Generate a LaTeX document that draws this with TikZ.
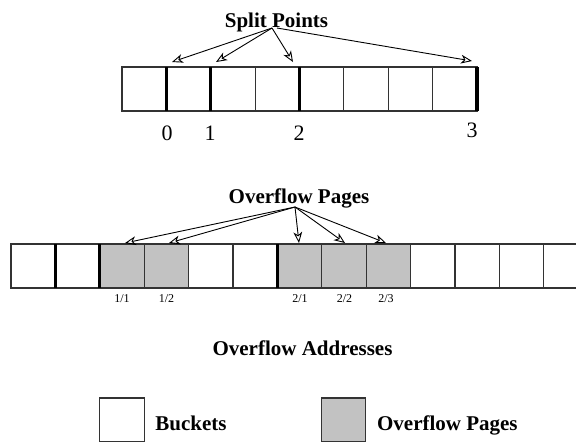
\documentclass[tikz,border=0pt]{standalone}
\usepackage{fontspec}
\setmainfont{Liberation Serif}
\usetikzlibrary{arrows.meta}
\begin{document}
\begin{tikzpicture}[x=0.5pt,y=-0.5pt,
  bucket/.style={draw=black!80, line width=0.6pt, minimum width=22.19pt, minimum height=22pt, inner sep=0pt, outer sep=0pt},
  ovf/.style={bucket, fill=black!24},
  splitline/.style={line width=1.6pt, black},
  ptr/.style={line width=0.45pt, -{Stealth[open,length=5.5pt,width=4.4pt,inset=1.6pt]}},
  title/.style={font=\fontsize{10.5}{12}\selectfont\bfseries, inner sep=0pt, anchor=base},
  legtext/.style={title, anchor=base west},
  digit/.style={font=\fontsize{11}{13}\selectfont, inner sep=0pt, anchor=base},
  addr/.style={font=\fontsize{6}{7}\selectfont, inner sep=0pt, anchor=base},
]
\clip (0,0) rectangle (576,441);
% ---------- top row ----------
\foreach \i in {0,...,7} \node[bucket] (t\i) at ({122+44.375*(\i+0.5)},89) {};
\draw[splitline] (t1.north west) -- (t1.south west);
\draw[splitline] (t2.north west) -- (t2.south west);
\draw[splitline] (t4.north west) -- (t4.south west);
\draw[splitline] (t7.north east) -- (t7.south east);
\node[digit] (d0) at (167,140) {0};
\node[digit] (d1) at (210,140) {1};
\node[digit] (d2) at (299,140) {2};
\node[digit] (d3) at (472,137) {3};
\node[title] (sp) at (276.5,27) {Split Points};
\coordinate (spo) at (272,28);
\coordinate (spo3) at (277,28);
\coordinate (spt0) at (172,62);
\coordinate (spt1) at (216,62);
\coordinate (spt2) at (293,62);
\coordinate (spt3) at (472,61);
\draw[ptr] (spo) -- (spt0);
\draw[ptr] (spo) -- (spt1);
\draw[ptr] (spo) -- (spt2);
\draw[ptr] (spo3) -- (spt3);
% ---------- bottom row ----------
\foreach \i in {0,1,4,5,9,10,11,12} \node[bucket] (b\i) at ({11+44.4*(\i+0.5)},266) {};
\foreach \i in {2,3,6,7,8} \node[ovf] (b\i) at ({11+44.4*(\i+0.5)},266) {};
\draw[splitline] (b1.north west) -- (b1.south west);
\draw[splitline] (b2.north west) -- (b2.south west);
\draw[splitline] (b6.north west) -- (b6.south west);
\node[addr] (a11) at (122,302) {1/1};
\node[addr] (a12) at (166.5,302) {1/2};
\node[addr] (a21) at (300,302) {2/1};
\node[addr] (a22) at (344.5,302) {2/2};
\node[addr] (a23) at (386,302) {2/3};
\node[title] (op) at (299,203) {Overflow Pages};
\coordinate (opo) at (295,207);
\coordinate (opt0) at (125,243);
\coordinate (opt1) at (169,243);
\coordinate (opt2) at (299,243);
\coordinate (opt3) at (345,243);
\coordinate (opt4) at (386,243);
\foreach \k in {0,...,4} \draw[ptr] (opo) -- (opt\k);
\node[title] (oa) at (302.5,355) {Overflow Addresses};
% ---------- legend ----------
\node[bucket] (lb) at (122,420) {};
\node[legtext] (lbt) at (155,430) {Buckets};
\node[ovf] (lo) at (343.7,420) {};
\node[legtext] (lot) at (376.7,430) {Overflow Pages};
\end{tikzpicture}
\end{document}
